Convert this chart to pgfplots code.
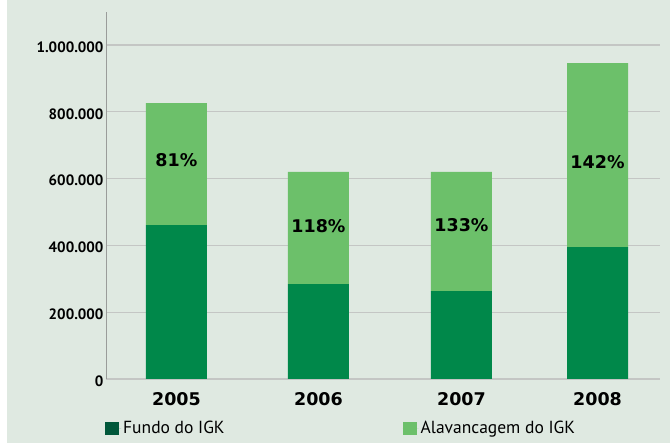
\documentclass[border=0pt]{standalone}
\usepackage{fontspec}
\setmainfont{PT Sans}
\newfontfamily\pctfont{DejaVu Sans}
\usepackage{pgfplots}
\pgfplotsset{compat=1.18}

\definecolor{bg}{HTML}{DFE9E1}
\definecolor{darkbar}{HTML}{00884A}
\definecolor{lightbar}{HTML}{6CC06A}
\definecolor{legdark}{HTML}{00573A}
\definecolor{gridc}{HTML}{C4C6C4}
\definecolor{axisc}{HTML}{9A9C9A}

\begin{document}
\begin{tikzpicture}
% page background (white margin at left, light panel)
\fill[white] (-106pt,-65pt) rectangle (564pt,379pt);
\fill[bg] (-99pt,-64pt) rectangle (564pt,379pt);
\begin{axis}[
  at={(0pt,0pt)}, anchor=south west,
  scale only axis,
  width=554pt, height=367pt,
  ybar stacked,
  bar width=61pt,
  xmin=-0.496, xmax=3.405,
  ymin=0, ymax=1099,
  xtick={0,1,2.007,2.965},
  xticklabels={2005,2006,2007,2008},
  ytick={0,200,400,600,800,1000},
  yticklabels={0,200.000,400.000,600.000,800.000,1.000.000},
  scaled y ticks=false,
  y tick label style={font=\fontsize{15}{17}\selectfont\bfseries, xshift=1pt, yshift=-2pt},
  x tick label style={font=\pctfont\bfseries\fontsize{17.5}{20}\selectfont, anchor=center, yshift=-19.7pt},
  major tick length=0pt,
  ymajorgrids,
  grid style={gridc, line width=1.2pt},
  axis x line*=bottom,
  axis y line*=left,
  axis line style={axisc, line width=0.9pt, -},
  x axis line style={gridc, line width=1.4pt},
  clip=false,
  legend style={
    at={(-1pt,-40pt)}, anchor=north west,
    draw=none, fill=none,
    font=\fontsize{17.5}{19}\selectfont,
    legend columns=2,
    /tikz/every even column/.append style={column sep=176pt},
    inner sep=0pt,
  },
  legend image code/.code={\fill[#1] (0pt,-6.5pt) rectangle (14pt,6.5pt); \path (0pt,0pt) -- (16pt,0pt);},
]
% values in thousands
\addplot[fill=darkbar, draw=none, forget plot] coordinates {
  (0,461) (1,284) (2.007,263) (2.965,395)
};
\addplot[fill=lightbar, draw=none, forget plot] coordinates {
  (0,365) (1,336) (2.007,357) (2.965,551)
};
\addlegendimage{fill=legdark, draw=none}
\addlegendentry{Fundo do IGK}
\addlegendimage{fill=lightbar, draw=none}
\addlegendentry{Alavancagem do IGK}

\coordinate (l1) at (axis cs:0,655);
\coordinate (l2) at (axis cs:1,459);
\coordinate (l3) at (axis cs:2.007,461);
\coordinate (l4) at (axis cs:2.965,650);
\end{axis}
\begin{scope}[every node/.style={font=\pctfont\bfseries\fontsize{17.5}{20}\selectfont}]
\node at (l1) {81\%};
\node at (l2) {118\%};
\node at (l3) {133\%};
\node at (l4) {142\%};
\end{scope}
\end{tikzpicture}
\end{document}
